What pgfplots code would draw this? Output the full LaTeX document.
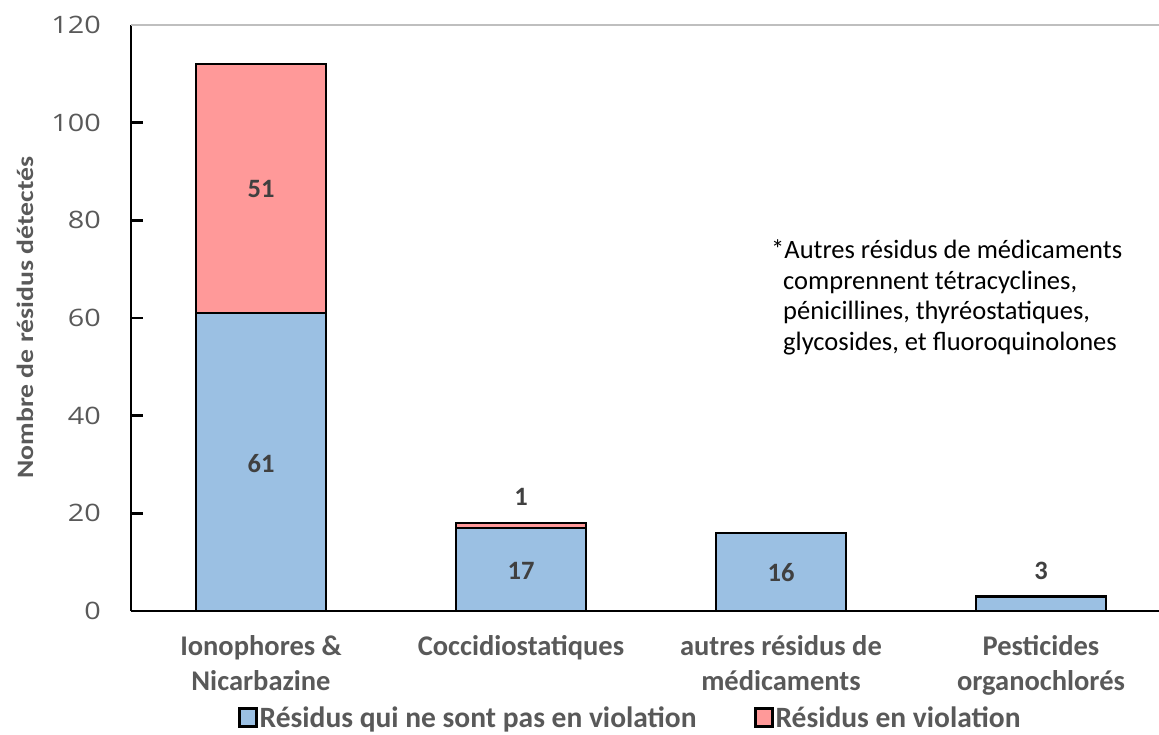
\documentclass[border=0pt]{standalone}
\usepackage{pgfplots}
\pgfplotsset{compat=1.18}
\usepackage{fontspec}
\setmainfont{Carlito}
\newfontfamily\tickfont[FakeStretch=1.2]{Open Sans}
\newfontfamily\ylabfont[FakeStretch=1.18]{Carlito}
\definecolor{cblue}{RGB}{155,192,227}
\definecolor{cred}{RGB}{255,153,153}
\definecolor{tgray}{RGB}{89,89,89}
\definecolor{dgray}{RGB}{64,64,64}
\definecolor{lgray}{RGB}{191,191,191}
\tikzset{dlab/.style={font=\bfseries\fontsize{26.5}{30}\selectfont, text=dgray}}
\pgfplotsset{sqlegend/.style={legend image code/.code={\draw[##1, line width=3pt] (0pt,-9pt) rectangle (17pt,9pt);}}}
\begin{document}
\begin{tikzpicture}[x=1pt,y=1pt]
\path[use as bounding box] (0,0) rectangle (1159,734);
\begin{axis}[
  at={(131pt,123pt)}, anchor=south west,
  scale only axis, width=1028pt, height=586pt,
  xmin=-0.5, xmax=3.4538, ymin=0, ymax=120,
  ybar stacked, bar width=0.5,
  clip=false,
  axis x line*=bottom, axis y line*=left,
  axis line style={black, line width=2.8pt},
  ytick={0,20,40,60,80,100,120},
  xtick={0,1,2,3},
  xticklabels={{Ionophores \&\\Nicarbazine},{Coccidiostatiques},{autres résidus de\\médicaments},{Pesticides\\organochlorés}},
  tick align=inside,
  major tick length=12pt,
  ytick style={black, line width=2.8pt},
  xtick style={draw=none},
  yticklabel style={font=\tickfont\fontsize{24}{28}\selectfont, text=tgray, inner sep=0pt, xshift=-30pt, /pgf/number format/assume math mode=true},
  xticklabel style={font=\bfseries\fontsize{28.5}{35}\selectfont, text=tgray, align=center, anchor=north, inner sep=0pt, yshift=-24pt},
  legend columns=2,
  legend style={draw=none, fill=none, at={(0.4855,-0.1825)}, anchor=center,
    font=\bfseries\fontsize{29.5}{33}\selectfont, text=tgray,
    /tikz/every even column/.append style={column sep=55pt}},
  sqlegend,
]
\addplot[fill=cblue, draw=black, line width=2.5pt] coordinates {(0,61) (1,17) (2,16) (3,3)};
\addplot[fill=cred, draw=black, line width=2.5pt] coordinates {(0,51) (1,1) (2,0) (3,0)};
\legend{Résidus qui ne sont pas en violation, Résidus en violation}
\draw[lgray, line width=2pt] (rel axis cs:0,1) -- (rel axis cs:1,1);
\draw[black, line width=2.8pt] (rel axis cs:0,1) -- (axis cs:-0.4538,120);
\coordinate (L51) at (axis cs:0,86.4);
\coordinate (L61) at (axis cs:0,30.1);
\coordinate (L1) at (axis cs:1,23.3);
\coordinate (L17) at (axis cs:1,8.2);
\coordinate (L16) at (axis cs:2,7.8);
\coordinate (L3) at (axis cs:3,8.2);
\end{axis}
\node[dlab] at (L51) {51};
\node[dlab] at (L61) {61};
\node[dlab] at (L1) {1};
\node[dlab] at (L17) {17};
\node[dlab] at (L16) {16};
\node[dlab] at (L3) {3};
\node[rotate=90, font=\ylabfont\bfseries\fontsize{23.5}{28}\selectfont, text=tgray] at (25,416.5) {Nombre de résidus détectés};
\node[font=\fontsize{26.5}{30}\selectfont, anchor=base west, inner sep=0pt] at (771,475) {*Autres résidus de médicaments};
\node[font=\fontsize{26.5}{30}\selectfont, anchor=base west, inner sep=0pt] at (783,444) {comprennent tétracyclines,};
\node[font=\fontsize{26.5}{30}\selectfont, anchor=base west, inner sep=0pt] at (783,414) {pénicillines, thyréostatiques,};
\node[font=\fontsize{26.5}{30}\selectfont, anchor=base west, inner sep=0pt] at (783,383) {glycosides, et fluoroquinolones};
\end{tikzpicture}
\end{document}
